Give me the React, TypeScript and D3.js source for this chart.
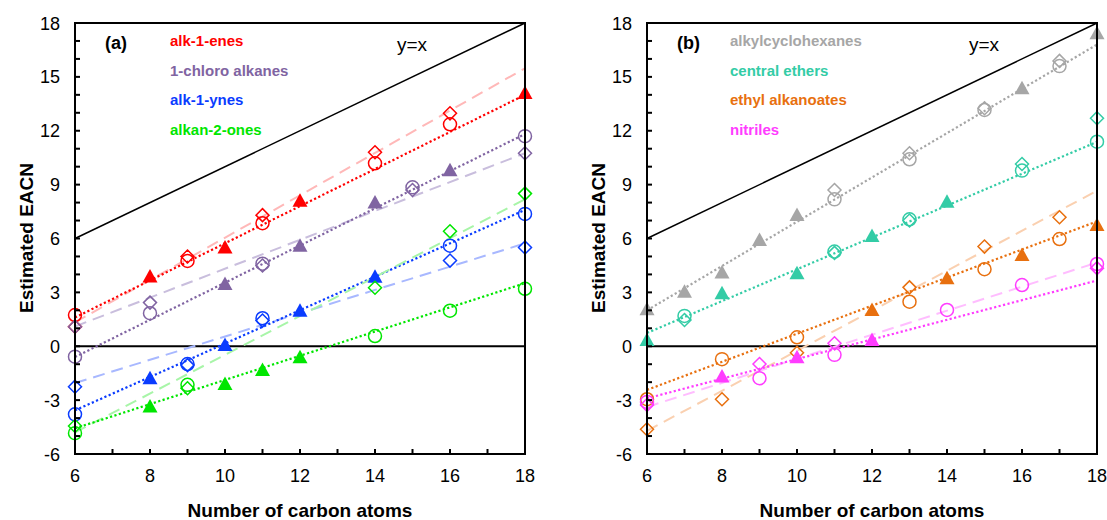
import React from "react";
import * as d3 from "d3";

// ---------- Data: panel (a) ----------
const alkenesTriX = [8, 10, 12, 18];
const alkenesTriY = [3.88, 5.5, 8.1, 14.1];
const alkenesCirX = [6, 9, 11, 14, 16];
const alkenesCirY = [1.74, 4.75, 6.85, 10.19, 12.36];
const alkenesDiaX = [6, 9, 11, 14, 16];
const alkenesDiaY = [1.09, 5.0, 7.3, 10.8, 12.97];
const alkenesDotted = [1.6, 14.0];
const alkenesDashed = [1.33, 15.48];

const chloroTriX = [10, 12, 14, 16];
const chloroTriY = [3.47, 5.6, 8.0, 9.8];
const chloroCirX = [6, 8, 11, 15, 18];
const chloroCirY = [-0.58, 1.84, 4.6, 8.85, 11.7];
const chloroDiaX = [6, 8, 11, 15, 18];
const chloroDiaY = [1.09, 2.43, 4.5, 8.7, 10.75];
const chloroDotted = [-0.6, 11.82];
const chloroDashed = [1.1, 10.75];

const alkynesTriX = [8, 10, 12, 14];
const alkynesTriY = [-1.78, 0.07, 1.98, 3.87];
const alkynesCirX = [6, 9, 11, 16, 18];
const alkynesCirY = [-3.79, -0.99, 1.56, 5.6, 7.37];
const alkynesDiaX = [6, 9, 11, 16, 18];
const alkynesDiaY = [-2.25, -1.05, 1.43, 4.77, 5.5];
const alkynesDotted = [-3.57, 7.59];
const alkynesDashed = [-2.05, 5.73];

const ketonesTriX = [8, 10, 11, 12];
const ketonesTriY = [-3.36, -2.1, -1.32, -0.61];
const ketonesCirX = [6, 9, 14, 16, 18];
const ketonesCirY = [-4.84, -2.15, 0.57, 1.98, 3.2];
const ketonesDiaX = [6, 9, 14, 16, 18];
const ketonesDiaY = [-4.44, -2.34, 3.26, 6.4, 8.5];
const ketonesDotted = [-4.57, 3.51];
const ketonesDashed = [-4.8, 8.18];

// ---------- Data: panel (b) ----------
const cyclohexTriX = [6, 7, 8, 9, 10, 16, 18];
const cyclohexTriY = [2.06, 3.04, 4.1, 5.92, 7.31, 14.37, 17.43];
const cyclohexCirX = [11, 13, 15, 17];
const cyclohexCirY = [8.18, 10.41, 13.16, 15.6];
const cyclohexDiaX = [11, 13, 15, 17];
const cyclohexDiaY = [8.7, 10.75, 13.25, 15.89];
const cyclohexDotted = [2.0, 16.8];

const ethersTriX = [6, 8, 10, 12, 14];
const ethersTriY = [0.35, 2.95, 4.06, 6.14, 8.05];
const ethersCirX = [7, 11, 13, 16, 18];
const ethersCirY = [1.69, 5.27, 7.07, 9.78, 11.39];
const ethersDiaX = [7, 11, 13, 16, 18];
const ethersDiaY = [1.46, 5.2, 7.0, 10.15, 12.7];
const ethersDotted = [0.74, 11.38];

const estersTriX = [12, 14, 16, 18];
const estersTriY = [2.02, 3.79, 5.08, 6.75];
const estersCirX = [6, 8, 10, 13, 15, 17];
const estersCirY = [-2.95, -0.72, 0.5, 2.48, 4.29, 5.97];
const estersDiaX = [6, 8, 10, 13, 15, 17];
const estersDiaY = [-4.62, -2.95, -0.36, 3.28, 5.55, 7.18];
const estersDotted = [-2.43, 6.95];
const estersDashed = [-4.71, 8.66];

const nitrilesTriX = [8, 10, 12];
const nitrilesTriY = [-1.69, -0.61, 0.35];
const nitrilesCirX = [6, 9, 11, 14, 16, 18];
const nitrilesCirY = [-3.1, -1.78, -0.48, 2.02, 3.41, 4.58];
const nitrilesDiaX = [6, 9, 11, 18];
const nitrilesDiaY = [-3.27, -0.99, 0.17, 4.35];
const nitrilesDotted = [-2.9, 3.66];
const nitrilesDashed = [-3.38, 4.66];

const xDomain = [6, 18];
const yDomain = [-6, 18];
const xTickLabels = [6, 8, 10, 12, 14, 16, 18];
const yTickLabels = [-6, -3, 0, 3, 6, 9, 12, 15, 18];

type Series = {
  name: string;
  color: string;
  light: string;
  triX: number[]; triY: number[];
  cirX: number[]; cirY: number[];
  diaX: number[]; diaY: number[];
  dotted?: number[];
  dashed?: number[];
};

const panelA: Series[] = [
  { name: "alk-1-enes", color: "#FF0000", light: "#FFB8B8", triX: alkenesTriX, triY: alkenesTriY, cirX: alkenesCirX, cirY: alkenesCirY, diaX: alkenesDiaX, diaY: alkenesDiaY, dotted: alkenesDotted, dashed: alkenesDashed },
  { name: "1-chloro alkanes", color: "#8064A2", light: "#C9BEDD", triX: chloroTriX, triY: chloroTriY, cirX: chloroCirX, cirY: chloroCirY, diaX: chloroDiaX, diaY: chloroDiaY, dotted: chloroDotted, dashed: chloroDashed },
  { name: "alk-1-ynes", color: "#0A3CFF", light: "#A8B8FF", triX: alkynesTriX, triY: alkynesTriY, cirX: alkynesCirX, cirY: alkynesCirY, diaX: alkynesDiaX, diaY: alkynesDiaY, dotted: alkynesDotted, dashed: alkynesDashed },
  { name: "alkan-2-ones", color: "#00E600", light: "#A8F5A8", triX: ketonesTriX, triY: ketonesTriY, cirX: ketonesCirX, cirY: ketonesCirY, diaX: ketonesDiaX, diaY: ketonesDiaY, dotted: ketonesDotted, dashed: ketonesDashed },
];

const panelB: Series[] = [
  { name: "alkylcyclohexanes", color: "#A6A6A6", light: "#D9D9D9", triX: cyclohexTriX, triY: cyclohexTriY, cirX: cyclohexCirX, cirY: cyclohexCirY, diaX: cyclohexDiaX, diaY: cyclohexDiaY, dotted: cyclohexDotted },
  { name: "central ethers", color: "#33CCA6", light: "#A8EBD9", triX: ethersTriX, triY: ethersTriY, cirX: ethersCirX, cirY: ethersCirY, diaX: ethersDiaX, diaY: ethersDiaY, dotted: ethersDotted },
  { name: "ethyl alkanoates", color: "#E8700F", light: "#FAD0B0", triX: estersTriX, triY: estersTriY, cirX: estersCirX, cirY: estersCirY, diaX: estersDiaX, diaY: estersDiaY, dotted: estersDotted, dashed: estersDashed },
  { name: "nitriles", color: "#FF3CFF", light: "#FFBDFF", triX: nitrilesTriX, triY: nitrilesTriY, cirX: nitrilesCirX, cirY: nitrilesCirY, diaX: nitrilesDiaX, diaY: nitrilesDiaY, dotted: nitrilesDotted, dashed: nitrilesDashed },
];

const FONT = "Arial, 'Liberation Sans', Helvetica, sans-serif";

function Panel({ left, tag, series }: { left: number; tag: string; series: Series[] }) {
  const top = 23;
  const bottom = 454;
  const width = 450;
  const x = d3.scaleLinear().domain(xDomain).range([left, left + width]);
  const y = d3.scaleLinear().domain(yDomain).range([bottom, top]);
  const line = d3.line<[number, number]>().x((d) => x(d[0])).y((d) => y(d[1]));
  const xTicks = d3.range(xDomain[0], xDomain[1] + 1, 1);
  const yTicks = d3.range(yDomain[0], yDomain[1] + 1, 1);
  const tri = (cx: number, cy: number) => `M${cx},${cy - 7.5}L${cx + 7.5},${cy + 6}L${cx - 7.5},${cy + 6}Z`;
  const dia = (cx: number, cy: number) => `M${cx},${cy - 6.5}L${cx + 6.5},${cy}L${cx},${cy + 6.5}L${cx - 6.5},${cy}Z`;

  return (
    <g>
      {/* y = x line */}
      <path d={line([[6, 6], [18, 18]]) || ""} stroke="#000" strokeWidth={1.5} fill="none" />
      {/* zero line */}
      <path d={line([[6, 0], [18, 0]]) || ""} stroke="#000" strokeWidth={2} fill="none" />
      {series.map((s, i) => (
        <g key={"l" + i}>
          {s.dashed && (
            <path d={line([[6, s.dashed[0]], [18, s.dashed[1]]]) || ""} stroke={s.light} strokeWidth={2} strokeDasharray="12,7" fill="none" />
          )}
          {s.dotted && (
            <path d={line([[6, s.dotted[0]], [18, s.dotted[1]]]) || ""} stroke={s.color} strokeWidth={2.2} strokeDasharray="2.2,2.4" fill="none" />
          )}
        </g>
      ))}
      {series.map((s, i) => (
        <g key={"m" + i}>
          {s.diaX.map((v, j) => (
            <path key={"d" + j} d={dia(x(v), y(s.diaY[j]))} stroke={s.color} strokeWidth={1.5} fill="none" />
          ))}
          {s.cirX.map((v, j) => (
            <circle key={"c" + j} cx={x(v)} cy={y(s.cirY[j])} r={6.5} stroke={s.color} strokeWidth={1.5} fill="none" />
          ))}
          {s.triX.map((v, j) => (
            <path key={"t" + j} d={tri(x(v), y(s.triY[j]))} fill={s.color} stroke="none" />
          ))}
        </g>
      ))}
      {/* frame */}
      <rect x={left} y={top} width={width} height={bottom - top} fill="none" stroke="#000" strokeWidth={2} />
      {/* ticks */}
      {yTicks.map((t) => (
        <line key={"yt" + t} x1={left} x2={left + 5} y1={y(t)} y2={y(t)} stroke="#000" strokeWidth={2} />
      ))}
      {xTicks.map((t) => (
        <line key={"xt" + t} x1={x(t)} x2={x(t)} y1={bottom} y2={bottom - 5} stroke="#000" strokeWidth={2} />
      ))}
      {yTickLabels.map((t) => (
        <text key={"yl" + t} x={left - 15} y={y(t) + 6.5} textAnchor="end" fontSize={18} fontFamily={FONT} fill="#000">{t}</text>
      ))}
      {xTickLabels.map((t) => (
        <text key={"xl" + t} x={x(t)} y={482} textAnchor="middle" fontSize={18} fontFamily={FONT} fill="#000">{t}</text>
      ))}
      <text x={left + 225} y={517} textAnchor="middle" fontSize={19} fontWeight="bold" fontFamily={FONT} fill="#000">Number of carbon atoms</text>
      <text transform={`translate(${left - 42},${238}) rotate(-90)`} textAnchor="middle" fontSize={19} fontWeight="bold" fontFamily={FONT} fill="#000">Estimated EACN</text>
      <text x={left + 30} y={49} fontSize={18} fontWeight="bold" fontFamily={FONT} fill="#000">{tag}</text>
      <text x={left + 322} y={51} fontSize={19} fontFamily={FONT} fill="#000">y=x</text>
      {series.map((s, i) => (
        <text key={"lg" + i} x={left + (tag === "(a)" ? 95 : 83)} y={46 + i * 29.5} fontSize={15} fontWeight="bold" fontFamily={FONT} fill={s.color}>{s.name}</text>
      ))}
    </g>
  );
}

export default function App() {
  return (
    <svg width={1107} height={520} style={{ position: "absolute", left: 0, top: 0, background: "#fff" }}>
      <rect x={0} y={0} width={1107} height={520} fill="#fff" />
      <Panel left={75} tag="(a)" series={panelA} />
      <Panel left={647} tag="(b)" series={panelB} />
    </svg>
  );
}
